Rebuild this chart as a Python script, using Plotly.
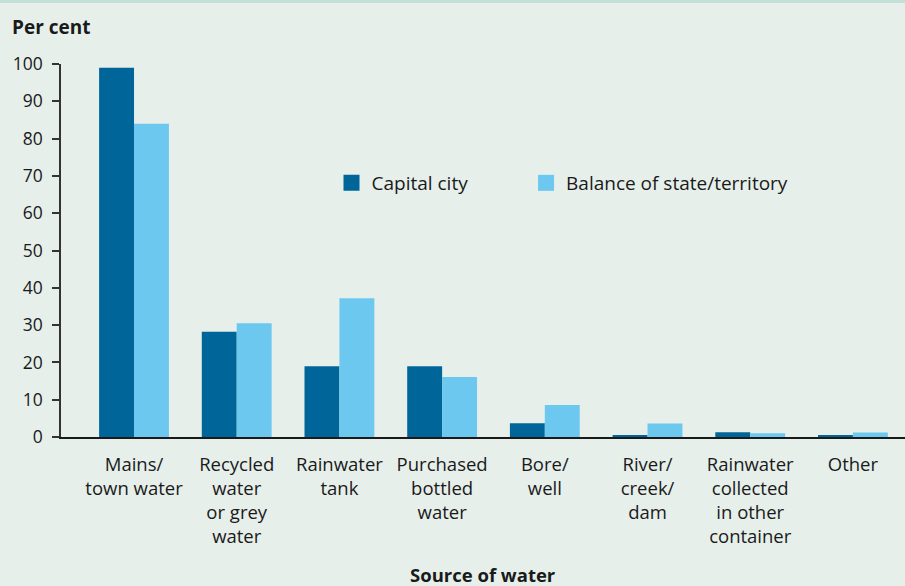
import plotly.graph_objects as go

categories = ["Mains/<br>town water", "Recycled<br>water<br>or grey<br>water", "Rainwater<br>tank",
              "Purchased<br>bottled<br>water", "Bore/<br>well", "River/<br>creek/<br>dam",
              "Rainwater<br>collected<br>in other<br>container", "Other"]
capital_city = [99, 28.2, 19, 19, 3.7, 0.3, 1.3, 0.3]
balance_state = [84, 30.5, 37.2, 16.1, 8.6, 3.6, 1.0, 1.2]
y_ticks = [0, 10, 20, 30, 40, 50, 60, 70, 80, 90, 100]

FONT = "Open Sans"
BG = "#e6efea"
TXT = "#1a1a1a"
DARK = "#006699"
LIGHT = "#6dc8ef"
x = list(range(len(categories)))

fig = go.Figure()
fig.add_trace(go.Bar(x=x, y=capital_city, name="Capital city", showlegend=False,
                     marker=dict(color=DARK, line=dict(width=0))))
fig.add_trace(go.Bar(x=x, y=balance_state, name="Balance of state/territory", showlegend=False,
                     marker=dict(color=LIGHT, line=dict(width=0))))
# legend entries with larger square swatches
fig.add_trace(go.Scatter(x=[None], y=[None], mode="markers", name="Capital city", legend="legend",
                         marker=dict(symbol="square", size=17, color=DARK, line=dict(width=0))))
fig.add_trace(go.Scatter(x=[None], y=[None], mode="markers", name="Balance of state/territory",
                         legend="legend2",
                         marker=dict(symbol="square", size=17, color=LIGHT, line=dict(width=0))))

leg_common = dict(orientation="h", y=0.681, xanchor="left", yanchor="middle",
                  bgcolor="rgba(0,0,0,0)", font=dict(size=19, color=TXT), itemsizing="trace")

fig.update_layout(
    width=905, height=586,
    paper_bgcolor=BG, plot_bgcolor=BG,
    margin=dict(l=61, r=0, t=64, b=149),
    barmode="group", bargap=0.32, bargroupgap=0,
    font=dict(family=FONT, size=17, color=TXT),
    showlegend=True,
    legend=dict(x=0.3205, **leg_common),
    legend2=dict(x=0.551, **leg_common),
    xaxis=dict(range=[-0.711, 7.507], tickmode="array", tickvals=x, ticktext=categories,
               showline=True, linecolor=TXT, linewidth=1.5, ticks="",
               showgrid=False, zeroline=False, fixedrange=True, ticklabelstandoff=10,
               tickfont=dict(size=18.5, color=TXT)),
    yaxis=dict(range=[0, 100], tickmode="array", tickvals=y_ticks,
               showline=True, linecolor="#333333", linewidth=1.5, ticks="outside",
               ticklen=7, tickcolor="#333333", tickwidth=1.5, showgrid=False, zeroline=False,
               fixedrange=True, tickfont=dict(size=17.5, color=TXT), ticklabelstandoff=6),
    shapes=[dict(type="rect", xref="paper", yref="paper", x0=0 - 61/844, x1=1,
                 y0=1 + 61/373, y1=1 + 64/373, fillcolor="#c2e0d8", line=dict(width=0), layer="below")],
    annotations=[
        dict(text="<b>Per cent</b>", xref="paper", yref="paper", x=-51/844, y=1 + 37/373,
             xanchor="left", yanchor="middle", showarrow=False, font=dict(size=19, color=TXT)),
        dict(text="<b>Source of water</b>", xref="paper", yref="paper", x=(483 - 61)/844, y=-(574 - 437)/373,
             xanchor="center", yanchor="middle", showarrow=False, font=dict(size=18.5, color=TXT)),
    ],
)

fig.write_html("out.html", config={"displayModeBar": False},
               post_script="document.body.style.margin='0';document.body.style.padding='0';")
